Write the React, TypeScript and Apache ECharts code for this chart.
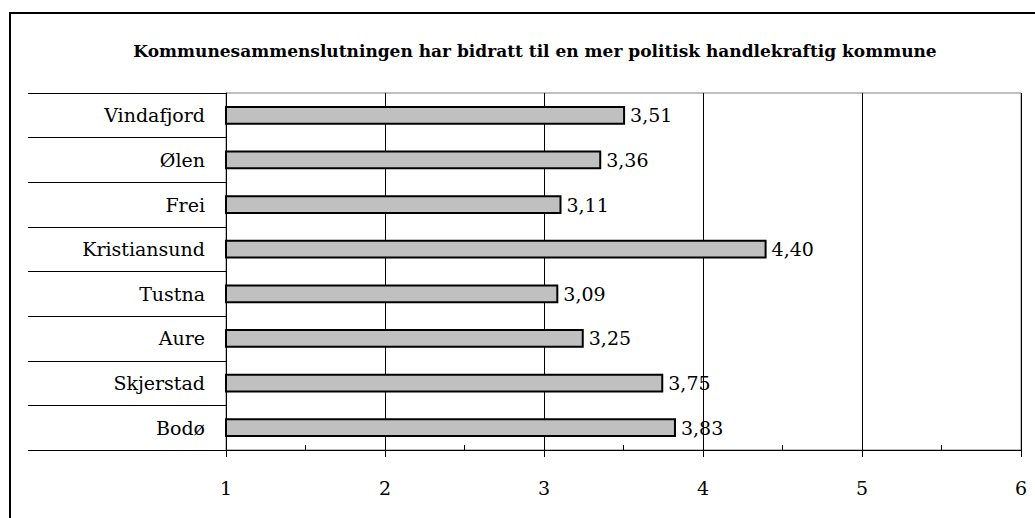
import React, { useEffect, useRef } from "react";
import * as echarts from "echarts";

const categories = ["Vindafjord", "Ølen", "Frei", "Kristiansund", "Tustna", "Aure", "Skjerstad", "Bodø"];
const values = [3.51, 3.36, 3.11, 4.40, 3.09, 3.25, 3.75, 3.83];
const titleText = "Kommunesammenslutningen har bidratt til en mer politisk handlekraftig kommune";

const FONT = "DejaVu Serif";

export default function App() {
  const ref = useRef<HTMLDivElement>(null);
  useEffect(() => {
    if (!ref.current) return;
    const chart = echarts.init(ref.current, undefined, { renderer: "svg" });
    chart.setOption({
      animation: false,
      backgroundColor: "#fff",
      title: {
        text: titleText,
        left: 530,
        top: 37,
        textAlign: "center",
        textStyle: { fontFamily: FONT, fontWeight: "bold", fontSize: 17, color: "#000" },
      },
      graphic: [
        {
          type: "rect",
          shape: { x: 10, y: 13, width: 1100, height: 600 },
          style: { fill: "none", stroke: "#000", lineWidth: 2 },
          silent: true,
        },
      ],
      grid: {
        left: 226,
        right: 14,
        top: 93,
        bottom: 68,
        show: true,
        borderColor: "#808080",
        borderWidth: 1,
      },
      xAxis: [
        {
          type: "value",
          min: 1,
          max: 6,
          interval: 1,
          position: "bottom",
          axisLine: { show: true, lineStyle: { color: "#000", width: 1 } },
          axisTick: { show: true, length: 7, lineStyle: { color: "#000" } },
          splitLine: { show: true, lineStyle: { color: "#000", width: 1 } },
          axisLabel: { fontFamily: FONT, fontSize: 19, color: "#000", margin: 28 },
        },
        {
          type: "value",
          min: 1,
          max: 6,
          interval: 0.5,
          position: "bottom",
          axisLine: { show: false },
          axisTick: { show: true, inside: true, length: 5, lineStyle: { color: "#000" } },
          splitLine: { show: false },
          axisLabel: { show: false },
        },
      ],
      yAxis: {
        type: "category",
        data: categories,
        inverse: true,
        boundaryGap: true,
        axisLine: { show: true, lineStyle: { color: "#000", width: 1 } },
        axisTick: { show: true, length: 198, lineStyle: { color: "#000", width: 1 } },
        splitLine: { show: false },
        axisLabel: { fontFamily: FONT, fontSize: 19, color: "#000", margin: 21 },
      },
      series: [
        {
          type: "bar",
          data: values,
          xAxisIndex: 0,
          barWidth: "42%",
          itemStyle: { color: "#c0c0c0", borderColor: "#000", borderWidth: 2 },
          label: {
            show: true,
            position: "right",
            distance: 5,
            fontFamily: FONT,
            fontSize: 19,
            color: "#000",
            formatter: (p: any) => p.value.toFixed(2).replace(".", ","),
          },
        },
      ],
    });
    return () => chart.dispose();
  }, []);
  return (
    <div
      ref={ref}
      style={{ position: "fixed", left: 0, top: 0, width: 1035, height: 518 }}
    />
  );
}
